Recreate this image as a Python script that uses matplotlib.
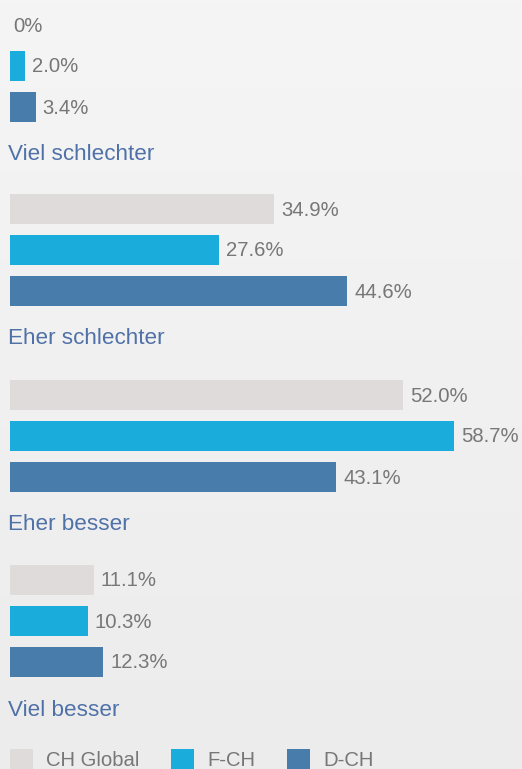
import numpy as np
import matplotlib.pyplot as plt
from matplotlib.colors import LinearSegmentedColormap

categories = ['Viel schlechter', 'Eher schlechter', 'Eher besser', 'Viel besser']
series = ['CH Global', 'F-CH', 'D-CH']
ch_global = [0.0, 34.9, 52.0, 11.1]
f_ch = [2.0, 27.6, 58.7, 10.3]
d_ch = [3.4, 44.6, 43.1, 12.3]

colors = ['#e0dbdb', '#1aaddb', '#487dab']
text_grey = '#777777'
cat_blue = '#4f71a8'

plt.rcParams['font.family'] = ['Liberation Sans', 'DejaVu Sans']

fig = plt.figure(figsize=(5.22, 7.69), dpi=100)
fig.patch.set_facecolor('#f1f1f1')
ax = fig.add_axes([0, 0, 1, 1])

# faint background gradient
bg = LinearSegmentedColormap.from_list('bg', ['#f5f5f5', '#ececec'])
grad = np.linspace(0, 1, 200).reshape(-1, 1) * np.ones((1, 50))
ax.imshow(grad, extent=[-1.5, 70, 769, 0], aspect='auto', cmap=bg, zorder=0)

# layout in pixel-like units (y grows downward)
px = (454 - 10) / 58.7
ax.set_xlim(-10 / px, 512 / px)
ax.set_ylim(769, 0)
ax.axis('off')

group_top = [10, 194, 380, 565]
row_pitch = 41
bar_h = 30

values = [ch_global, f_ch, d_ch]
for s, vals in enumerate(values):
    ys = [g + s * row_pitch + bar_h / 2 for g in group_top]
    ax.barh(ys, vals, height=bar_h, color=colors[s], zorder=2)
    for y, v in zip(ys, vals):
        fmt = '{:.0f}%' if v == 0 else '{:.1f}%'
        ax.text(v + 7 / px if v > 0 else 3 / px, y + 1, fmt.format(v),
                va='center', ha='left', fontsize=14.6, color=text_grey, zorder=3)

for g, cat in zip(group_top, categories):
    ax.text(-2 / px, g + 145, cat, va='center', ha='left', fontsize=16.2,
            color=cat_blue, zorder=3)

# legend
leg_x = [0, 21.3, 36.6]
for lx, name, c in zip(leg_x, series, colors):
    ax.barh(761, 3.0, left=lx, height=24, color=c, zorder=2)
    ax.text(lx + 4.8, 761, name, va='center', ha='left', fontsize=14.6,
            color=text_grey, zorder=3)

fig.savefig('out.png', dpi=100, facecolor=fig.get_facecolor())
